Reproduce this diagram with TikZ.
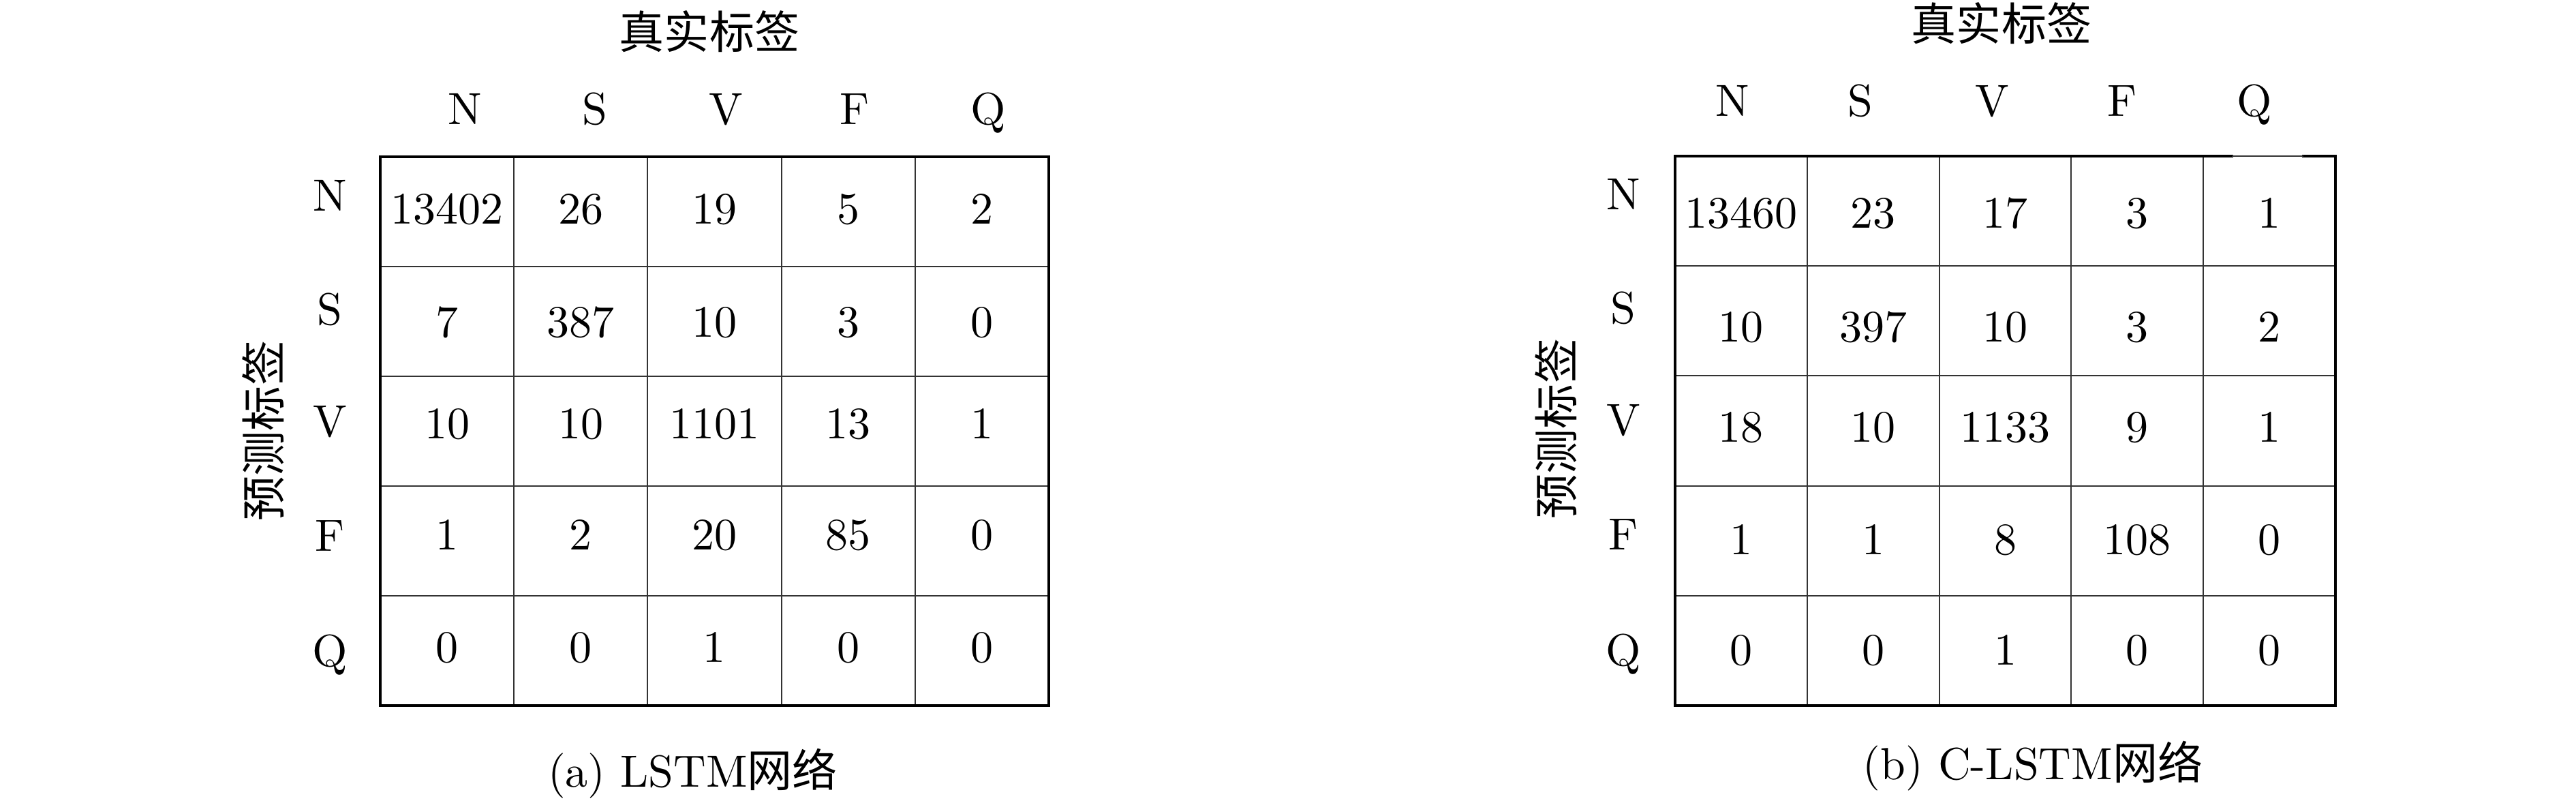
\documentclass[tikz,border=0pt]{standalone}
\usepackage{fontspec}
\setmainfont{lmroman10-regular.otf}
\newfontfamily\cjk{Noto Sans CJK SC}
\usepackage{tikz}

\begin{document}
\begin{tikzpicture}[every node/.style={font=\fontsize{18.8}{23}\selectfont, inner sep=0pt, anchor=base},
	outerline/.style={draw=black, line width=1.4pt, line cap=rect},
	innerline/.style={draw=black!80, line width=0.6pt}]
	\useasboundingbox (0,0) rectangle (37.8,11.74);
	
	% (a) LSTM
	\foreach \i in {1,...,4}{
		\draw[innerline] ({5.58+\i*1.962},1.39) -- ({5.58+\i*1.962},9.44);
		\draw[innerline] (5.58,{1.39+\i*1.61}) -- (15.39,{1.39+\i*1.61});
	}
	\draw[outerline] (5.58,1.39) rectangle (15.39,9.44);
	
	\foreach \r/\yb/\vals in {1/8.45/{13402,26,19,5,2}, 2/6.79/{7,387,10,3,0}, 3/5.31/{10,10,1101,13,1}, 4/3.68/{1,2,20,85,0}, 5/2.03/{0,0,1,0,0}}{
		\foreach \v [count=\c] in \vals{
			\node (a\r\c) at ({5.58+(\c-0.5)*1.962},\yb){\v};
		}
	}
	\foreach \lab/\yb [count=\k] in {N/8.64, S/6.97, V/5.33, F/3.66, Q/1.97}
		\node (rowa\k) at (4.84,\yb){\lab};
	\foreach \lab/\xc [count=\k] in {N/6.82, S/8.73, V/10.65, F/12.54, Q/14.50}
		\node (cola\k) at (\xc,9.91){\lab};
	
	\node (truea) at (10.41,11.02){\cjk 真实标签};
	\node[rotate=90, anchor=center] (preda) at (3.86,5.42){\cjk 预测标签};
	\node (capa) at (10.165,0.195){(a) LSTM{\cjk 网络}};
	
	% (b) C-LSTM
	\foreach \i in {1,...,4}{
		\draw[innerline] ({24.58+\i*1.938},1.39) -- ({24.58+\i*1.938},9.45);
		\draw[innerline] (24.58,{1.39+\i*1.612}) -- (34.27,{1.39+\i*1.612});
	}
	\draw[outerline] (32.75,9.45) -- (24.58,9.45) -- (24.58,1.39) -- (34.27,1.39) -- (34.27,9.45) -- (33.80,9.45);
	\draw[innerline] (32.75,9.45) -- (33.80,9.45);
	
	\foreach \r/\yb/\vals in {1/8.39/{13460,23,17,3,1}, 2/6.72/{10,397,10,3,2}, 3/5.26/{18,10,1133,9,1}, 4/3.60/{1,1,8,108,0}, 5/1.99/{0,0,1,0,0}}{
		\foreach \v [count=\c] in \vals{
			\node (b\r\c) at ({24.58+(\c-0.5)*1.938},\yb){\v};
		}
	}
	\foreach \lab/\yb [count=\k] in {N/8.66, S/6.99, V/5.35, F/3.68, Q/1.98}
		\node (rowb\k) at (23.82,\yb){\lab};
	\foreach \lab/\xc [count=\k] in {N/25.42, S/27.30, V/29.23, F/31.14, Q/33.08}
		\node (colb\k) at (\xc,10.03){\lab};
	
	\node (trueb) at (29.37,11.14){\cjk 真实标签};
	\node[rotate=90, anchor=center] (predb) at (22.83,5.45){\cjk 预测标签};
	\node (capb) at (29.83,0.305){(b) C-LSTM{\cjk 网络}};
\end{tikzpicture}
\end{document}
